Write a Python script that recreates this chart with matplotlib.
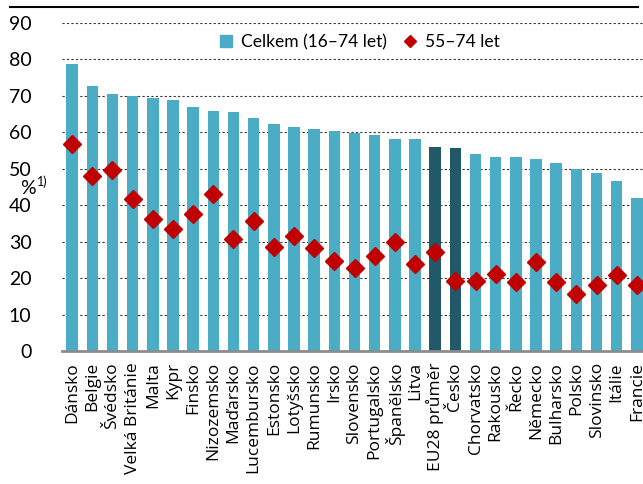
import numpy as np
import matplotlib.pyplot as plt
from matplotlib.lines import Line2D
from matplotlib.patches import Patch

# data
zeme = ["Dánsko", "Belgie", "Švédsko", "Velká Británie", "Malta", "Kypr", "Finsko",
        "Nizozemsko", "Maďarsko", "Lucembursko", "Estonsko", "Lotyšsko", "Rumunsko",
        "Irsko", "Slovensko", "Portugalsko", "Španělsko", "Litva", "EU28 průměr",
        "Česko", "Chorvatsko", "Rakousko", "Řecko", "Německo", "Bulharsko", "Polsko",
        "Slovinsko", "Itálie", "Francie"]
celkem = [78.8, 72.8, 70.6, 69.9, 69.4, 69.0, 67.0, 65.9, 65.5, 63.8, 62.2, 61.5, 60.9,
          60.4, 59.9, 59.3, 58.2, 58.1, 56.0, 55.8, 54.0, 53.2, 53.1, 52.7, 51.5, 50.0,
          48.9, 46.6, 42.0]
starsi = [56.9, 48.1, 49.7, 41.7, 36.2, 33.5, 37.7, 43.0, 30.7, 35.6, 28.5, 31.6, 28.2,
          24.6, 22.8, 26.2, 29.9, 24.0, 27.2, 19.2, 19.2, 21.0, 18.9, 24.5, 18.9, 15.7,
          18.2, 20.9, 18.2]
yticks = [0, 10, 20, 30, 40, 50, 60, 70, 80, 90]

modra = "#4BACC6"
tmava = "#215968"
cervena = "#C00000"

fig = plt.figure(figsize=(6.43, 4.84), dpi=100)
ax = fig.add_axes([62/643, 133/484, 585/643, 328/484])

x = np.arange(len(zeme))
barvy = [tmava if z in ("EU28 průměr", "Česko") else modra for z in zeme]
ax.bar(x, celkem, width=0.57, color=barvy, zorder=2)
ax.plot(x, starsi, linestyle="none", marker="D", markersize=9, color=cervena, zorder=3)

ax.set_xlim(-0.5, 28.5)
ax.set_ylim(0, 90)
ax.set_yticks(yticks)
ax.set_yticklabels([str(v) for v in yticks], fontfamily="Lato", fontsize=14)
ax.set_xticks(x)
ax.set_xticklabels(zeme, rotation=90, fontfamily="Open Sans", fontsize=12.5)
ax.tick_params(axis="y", length=0, pad=22)
ax.tick_params(axis="x", length=0, pad=8)

for s in ax.spines.values():
    s.set_visible(False)
for v in yticks[1:]:
    ax.axhline(v, color="#333333", linewidth=0.8, linestyle=(0, (2, 2)), zorder=1)
ax.axhline(0, color="#8c8c8c", linewidth=2, zorder=4, clip_on=False)

fig.text(20/643, 1 - 188/484, "%", fontfamily="Lato", fontsize=14, va="center")
fig.text(37/643, 1 - 182/484, "1)", fontfamily="Lato", fontsize=9, va="center")

# black rule at the top
fig.add_artist(Line2D([10/643, 638/643], [1 - 7/484, 1 - 7/484], color="black", linewidth=1.5))

h = [Patch(color=modra), Line2D([], [], linestyle="none", marker="D", markersize=6.5, color=cervena)]
ax.legend(h, ["Celkem (16–74 let)", "55–74 let"], ncol=2, frameon=False,
          loc="center right", bbox_to_anchor=(0.775, 1 - 19/328),
          prop={"family": "Lato", "size": 12.5}, handlelength=0.7, handletextpad=0.5,
          columnspacing=1.0)

plt.savefig("out.png", dpi=100)
